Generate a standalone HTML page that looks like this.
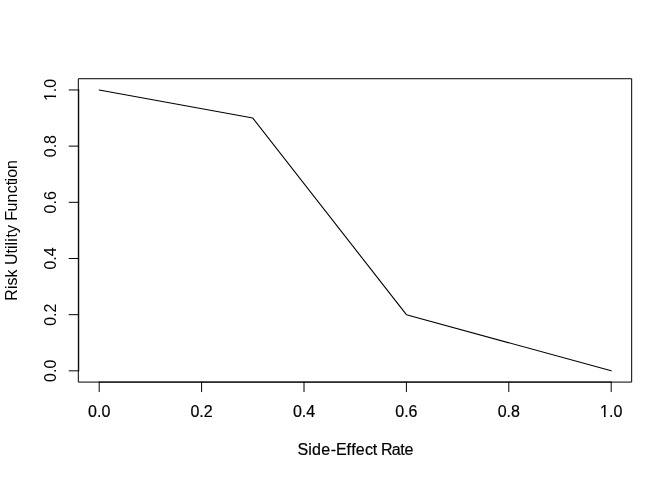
<!DOCTYPE html>
<html>
<head>
<meta charset="utf-8">
<title>Risk Utility Function</title>
<style>
html,body{margin:0;padding:0;background:#fff;}
body{width:672px;height:480px;overflow:hidden;}
svg{display:block;}
text{font-family:"Liberation Sans",sans-serif;font-size:16px;fill:#000;stroke:#000;stroke-width:0.2px;stroke-linejoin:round;}
.v text,text.v{stroke:none;}
</style>
</head>
<body>
<svg width="672" height="480" viewBox="0 0 672 480">
<rect x="0" y="0" width="672" height="480" fill="#fff"/>
<defs><clipPath id="nofoot"><path clip-rule="evenodd" d="M-20,-20H20V6H-20Z M-11.5,-2.1H-7.25V2H-11.5Z M-5.5,-2.1H-2V2H-5.5Z"/></clipPath></defs>
<g fill="none" stroke="#000" stroke-width="1" stroke-linecap="round" stroke-linejoin="round">
<!-- data line -->
<polyline stroke-width="1.1" points="99.2,89.96 252.8,118.04 406.4,314.66 611.2,370.84"/>
<!-- x axis -->
<line x1="99.2" y1="382.08" x2="611.2" y2="382.08"/>
<line x1="99.2" y1="382.08" x2="99.2" y2="391.68"/>
<line x1="201.6" y1="382.08" x2="201.6" y2="391.68"/>
<line x1="304" y1="382.08" x2="304" y2="391.68"/>
<line x1="406.4" y1="382.08" x2="406.4" y2="391.68"/>
<line x1="508.8" y1="382.08" x2="508.8" y2="391.68"/>
<line x1="611.2" y1="382.08" x2="611.2" y2="391.68"/>
<!-- y axis -->
<line x1="78.72" y1="370.84" x2="78.72" y2="89.96"/>
<line x1="78.72" y1="370.84" x2="69.12" y2="370.84"/>
<line x1="78.72" y1="314.66" x2="69.12" y2="314.66"/>
<line x1="78.72" y1="258.49" x2="69.12" y2="258.49"/>
<line x1="78.72" y1="202.31" x2="69.12" y2="202.31"/>
<line x1="78.72" y1="146.13" x2="69.12" y2="146.13"/>
<line x1="78.72" y1="89.96" x2="69.12" y2="89.96"/>
<!-- box -->
<rect x="78.72" y="78.72" width="552.96" height="303.36"/>
</g>
<g text-anchor="middle">
<text x="99.2" y="416.64">0.0</text>
<text x="201.6" y="416.64">0.2</text>
<text x="304" y="416.64">0.4</text>
<text x="406.4" y="416.64">0.6</text>
<text x="508.8" y="416.64">0.8</text>
<g transform="translate(611.2,416.64)"><text clip-path="url(#nofoot)">1.0</text></g>
<text text-anchor="start" x="297.45 308.36 312.1 321.3 330.7 336 346.5 351.2 355.8 364.9 372.7 377 381.1 391.7 400.25 404.6" y="455.04">Side-Effect Rate</text>
<text class="v" transform="translate(55.68,370.84) rotate(-90)">0.0</text>
<text class="v" transform="translate(55.68,314.66) rotate(-90)">0.2</text>
<text class="v" transform="translate(55.68,258.49) rotate(-90)">0.4</text>
<text class="v" transform="translate(55.68,202.31) rotate(-90)">0.6</text>
<text class="v" transform="translate(55.68,146.13) rotate(-90)">0.8</text>
<g class="v" transform="translate(55.68,89.96) rotate(-90)"><text clip-path="url(#nofoot)">1.0</text></g>
<text class="v" text-anchor="start" transform="translate(17.28,230.4) rotate(-90)" x="-70.24 -58.7 -55.13 -47.13 -39.13 -34.7 -23.13 -18.7 -15.13 -11.3 -7 -2.5 5.4 9.7 19 27.95 37.2 45.2 49 52.7 61.45">Risk Utility Function</text>
</g>
</svg>
</body>
</html>
